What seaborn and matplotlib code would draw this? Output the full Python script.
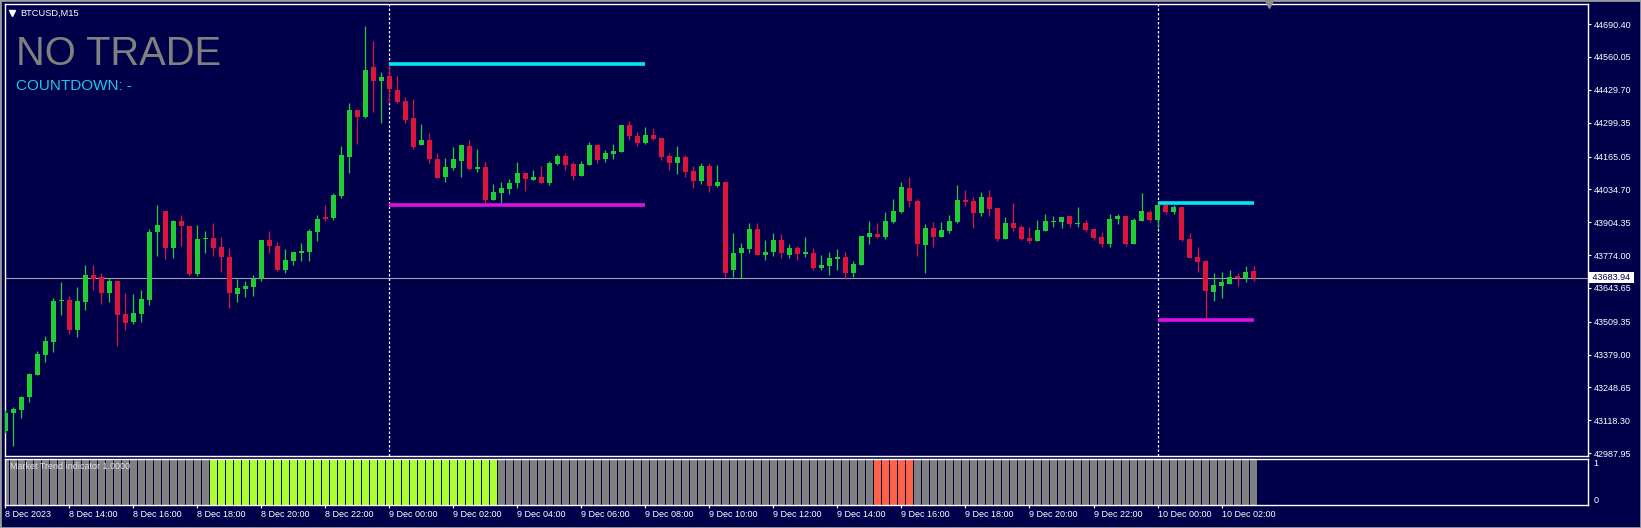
import numpy as np
import pandas as pd
import matplotlib
matplotlib.use('Agg')
import matplotlib.pyplot as plt
import seaborn as sns

# BTCUSD M15 bars, 8 Dec 2023 12:00 -> 10 Dec 2023 03:00
opens = [43077, 43149, 43159, 43212, 43300, 43377, 43429, 43590, 43596, 43477,
         43589, 43695, 43686, 43624, 43671, 43540, 43508, 43540, 43596, 43866,
         43949, 43801, 43909, 43889, 43699, 43838, 43842, 43806, 43766, 43621,
         43641, 43649, 43679, 43834, 43810, 43715, 43751, 43783, 43786, 43866,
         43925, 43920, 44008, 44164, 44350, 44323, 44521, 44466, 44484, 44429,
         44385, 44317, 44211, 44231, 44155, 44085, 44118, 44149, 44207, 44117,
         44123, 43993, 44022, 44036, 44061, 44100, 44073, 44084, 44061, 44135,
         44167, 44135, 44088, 44133, 44211, 44155, 44175, 44183, 44290, 44246,
         44219, 44250, 44238, 44167, 44139, 44163, 44108, 44068, 44127, 44048,
         44064, 43715, 43782, 43798, 43878, 43774, 43786, 43834, 43774, 43802,
         43778, 43782, 43723, 43731, 43760, 43766, 43702, 43735, 43846, 43858,
         43846, 43905, 43945, 44040, 43989, 43814, 43881, 43846, 43870, 43905,
         43993, 43989, 43941, 44004, 43961, 43838, 43901, 43885, 43842, 43830,
         43870, 43905, 43905, 43929, 43897, 43901, 43878, 43846, 43818, 43917,
         43929, 43818, 43909, 43945, 43913, 43973, 43945, 43966, 43838, 43766,
         43750, 43627, 43651, 43659, 43691, 43683, 43711]
highs = [43159, 43171, 43215, 43305, 43393, 43453, 43602, 43667, 43610, 43646,
         43735, 43735, 43704, 43682, 43671, 43622, 43620, 43635, 43876, 43973,
         43949, 43913, 43933, 43889, 43893, 43870, 43901, 43846, 43802, 43679,
         43671, 43694, 43834, 43870, 43826, 43798, 43786, 43822, 43877, 43933,
         43973, 44022, 44207, 44376, 44350, 44683, 44623, 44500, 44528, 44485,
         44400, 44392, 44294, 44257, 44178, 44158, 44201, 44211, 44231, 44195,
         44142, 44056, 44064, 44076, 44143, 44100, 44112, 44127, 44149, 44175,
         44178, 44143, 44147, 44223, 44215, 44191, 44215, 44290, 44306, 44262,
         44282, 44278, 44238, 44179, 44207, 44171, 44127, 44139, 44139, 44131,
         44064, 43860, 43822, 43900, 43900, 43834, 43860, 43858, 43818, 43810,
         43844, 43802, 43774, 43786, 43798, 43786, 43751, 43850, 43909, 43901,
         43945, 43997, 44064, 44084, 43997, 43897, 43905, 43905, 43933, 44052,
         44032, 44004, 44024, 44032, 43961, 43925, 43981, 43893, 43885, 43913,
         43937, 43929, 43925, 43929, 43965, 43913, 43878, 43866, 43937, 43937,
         43929, 43921, 44020, 43953, 43973, 43973, 43973, 43969, 43862, 43806,
         43754, 43703, 43707, 43715, 43703, 43731, 43731]
lows = [43067, 43018, 43129, 43192, 43297, 43350, 43389, 43536, 43461, 43450,
        43556, 43635, 43581, 43589, 43414, 43477, 43500, 43510, 43576, 43770,
        43758, 43764, 43810, 43691, 43691, 43783, 43772, 43708, 43565, 43589,
        43609, 43613, 43672, 43783, 43711, 43703, 43735, 43750, 43750, 43830,
        43909, 43913, 44002, 44098, 44215, 44317, 44343, 44297, 44379, 44376,
        44299, 44194, 44211, 44138, 44081, 44065, 44111, 44085, 44111, 44105,
        43982, 43993, 43982, 44018, 44041, 44030, 44073, 44061, 44053, 44131,
        44111, 44073, 44088, 44133, 44141, 44145, 44155, 44183, 44231, 44207,
        44215, 44231, 44151, 44111, 44096, 44085, 44041, 44057, 44026, 44044,
        43686, 43686, 43682, 43781, 43774, 43755, 43770, 43762, 43762, 43755,
        43768, 43715, 43715, 43695, 43715, 43681, 43686, 43735, 43818, 43842,
        43838, 43901, 43941, 43965, 43770, 43704, 43806, 43846, 43862, 43901,
        43969, 43881, 43929, 43929, 43830, 43838, 43870, 43834, 43822, 43830,
        43870, 43885, 43881, 43885, 43885, 43866, 43834, 43806, 43806, 43897,
        43810, 43818, 43909, 43905, 43880, 43937, 43937, 43830, 43762, 43707,
        43526, 43592, 43604, 43659, 43651, 43667, 43671]
closes = [43149, 43163, 43211, 43302, 43382, 43433, 43592, 43593, 43477, 43592,
          43695, 43679, 43625, 43671, 43536, 43506, 43543, 43600, 43866, 43894,
          43801, 43909, 43889, 43699, 43838, 43840, 43803, 43766, 43625, 43642,
          43651, 43679, 43834, 43811, 43715, 43754, 43786, 43790, 43870, 43917,
          43917, 44012, 44171, 44350, 44323, 44508, 44466, 44482, 44432, 44383,
          44310, 44204, 44231, 44155, 44081, 44123, 44155, 44211, 44116, 44123,
          43993, 44024, 44040, 44059, 44100, 44076, 44084, 44061, 44139, 44167,
          44131, 44088, 44135, 44211, 44151, 44179, 44187, 44290, 44246, 44219,
          44250, 44235, 44163, 44139, 44163, 44104, 44068, 44127, 44049, 44064,
          43703, 43781, 43802, 43878, 43774, 43786, 43834, 43782, 43802, 43778,
          43786, 43723, 43735, 43762, 43768, 43702, 43739, 43850, 43862, 43846,
          43909, 43949, 44044, 43989, 43818, 43881, 43846, 43874, 43909, 43993,
          43985, 43941, 44004, 43957, 43838, 43901, 43881, 43838, 43830, 43874,
          43909, 43909, 43925, 43897, 43901, 43874, 43842, 43818, 43917, 43929,
          43818, 43913, 43949, 43913, 43973, 43945, 43965, 43834, 43762, 43746,
          43631, 43655, 43667, 43687, 43683, 43707, 43683.94]

# Market Trend indicator, run-length
trend_states = ['flat', 'up', 'flat', 'down', 'flat']
trend_lengths = [26, 36, 47, 5, 43]

time_labels = ['8 Dec 2023', '8 Dec 14:00', '8 Dec 16:00', '8 Dec 18:00', '8 Dec 20:00',
               '8 Dec 22:00', '9 Dec 00:00', '9 Dec 02:00', '9 Dec 04:00', '9 Dec 06:00',
               '9 Dec 08:00', '9 Dec 10:00', '9 Dec 12:00', '9 Dec 14:00', '9 Dec 16:00',
               '9 Dec 18:00', '9 Dec 20:00', '9 Dec 22:00', '10 Dec 00:00', '10 Dec 02:00']
price_ticks = [44690.40, 44560.05, 44429.70, 44299.35, 44165.05, 44034.70, 43904.35,
               43774.00, 43643.65, 43509.35, 43379.00, 43248.65, 43118.30, 42987.95]
last_price = 43683.94

# session boxes (bar index of start/end, high and low level)
session_start = [48, 144]
session_end = [80, 156]
session_high = [44532, 43981]
session_low = [43973, 43516]

bg = '#00004a'
bull = '#22cc33'
bear = '#dc143c'

sns.set_theme(style='dark', rc={'axes.facecolor': bg, 'figure.facecolor': bg,
                                'axes.edgecolor': 'white', 'axes.linewidth': 1.0})
plt.rcParams['font.family'] = ['Liberation Sans', 'DejaVu Sans']

W, H = 1641, 528
fig = plt.figure(figsize=(W / 100, H / 100), dpi=100)
ax = fig.add_axes([4.7 / W, 1 - 456 / H, (1588 - 4.7) / W, (456 - 4.3) / H])
ax2 = fig.add_axes([4.7 / W, 1 - 505 / H, (1588 - 4.7) / W, (505 - 458.7) / H])

df = pd.DataFrame({'open': opens, 'high': highs, 'low': lows, 'close': closes})
df['bar'] = np.arange(len(df))
up = df['close'] >= df['open']
colors = np.where(up, bull, bear)

ax.axhline(last_price, color='#a0a0a0', lw=0.8, zorder=1)
ax.vlines(df['bar'], df['low'], df['high'], colors=colors, lw=0.9, zorder=3)
body = df['close'] - df['open']
body = body.where(body.abs() >= 4, np.where(up, 4, -4))
ax.bar(df['bar'], body, bottom=df['open'], width=0.62, color=colors, lw=0, zorder=4)

for s in session_start:
    ax.axvline(s, color='white', lw=0.9, ls=(0, (2, 1.6)), zorder=2)
ax.hlines(session_high, session_start, session_end, color='#00e8f0', lw=2.6, zorder=5)
ax.hlines(session_low, session_start, session_end, color='#e010e0', lw=2.6, zorder=5)

ax.set_xlim(-0.075, 197.8)
ax.set_ylim(42976.8, 44768.9)
ax.grid(False)
ax.yaxis.tick_right()
ax.set_yticks(price_ticks)
ax.set_yticklabels([f'{v:.2f}' for v in price_ticks])
ax.tick_params(axis='y', colors='white', labelsize=6.5, length=2.5, width=0.8, pad=1.5)
ax.tick_params(axis='x', bottom=False, labelbottom=False)
for sp in ax.spines.values():
    sp.set_color('white')
    sp.set_linewidth(1)

ax.text(1.0012, last_price, ' 43683.94 ', transform=ax.get_yaxis_transform(),
        ha='left', va='center', fontsize=6.5, color=bg, zorder=10, clip_on=False,
        bbox=dict(boxstyle='square,pad=0.12', fc='white', ec='none'))

# indicator panel
ind = pd.DataFrame({'bar': df['bar'], 'state': np.repeat(trend_states, trend_lengths), 'level': 1.0})
sns.barplot(data=ind, x='bar', y='level', hue='state', native_scale=True, dodge=False,
            palette={'flat': '#808080', 'up': '#adff2f', 'down': '#ff6347'},
            width=0.86, saturation=1, errorbar=None, legend=False, linewidth=0, ax=ax2)
ax2.set_xlim(-0.075, 197.8)
ax2.set_ylim(0, 1)
ax2.grid(False)
ax2.set_xlabel('')
ax2.set_ylabel('')
ax2.yaxis.tick_right()
ax2.set_yticks([0, 1])
ax2.set_yticklabels(['0', '1'])
ax2.get_yticklabels()[0].set_va('bottom')
ax2.get_yticklabels()[1].set_va('top')
ax2.tick_params(axis='y', colors='white', labelsize=6.5, length=0, pad=4)
ax2.set_xticks(np.arange(0, len(df), 8))
ax2.set_xticklabels(time_labels)
for lbl in ax2.get_xticklabels():
    lbl.set_ha('left')
ax2.tick_params(axis='x', colors='white', labelsize=6.5, length=2.5, width=0.8, pad=1, bottom=True)
for sp in ax2.spines.values():
    sp.set_color('white')
    sp.set_linewidth(1)
ax2.text(0.0035, 0.78, 'Market Trend indicator 1.0000', transform=ax2.transAxes,
         fontsize=6.5, color='#e4e4e4', va='baseline', zorder=20)

# chart texts
fig.text(16 / W, 1 - 65 / H, 'NO TRADE', fontsize=28.7, color='#808080', va='baseline')
fig.text(16 / W, 1 - 90 / H, 'COUNTDOWN: -', fontsize=11, color='#1ec8e6', va='baseline')
fig.text(20.5 / W, 1 - 16 / H, 'BTCUSD,M15', fontsize=6.7, color='white', va='baseline')
fig.lines.append(plt.Line2D([12 / W], [1 - 12.5 / H], marker='v', ms=4, color='white',
                            transform=fig.transFigure))
fig.lines.append(plt.Line2D([1269 / W], [1 - 4 / H], marker='v', ms=6, color='#8c8c8c',
                            transform=fig.transFigure))
fig.patches.append(plt.Rectangle((0, 0), 1, 1, transform=fig.transFigure, fill=False,
                                 ec='#9a9a9a', lw=2))

fig.savefig('out.png', dpi=100, facecolor=bg)
